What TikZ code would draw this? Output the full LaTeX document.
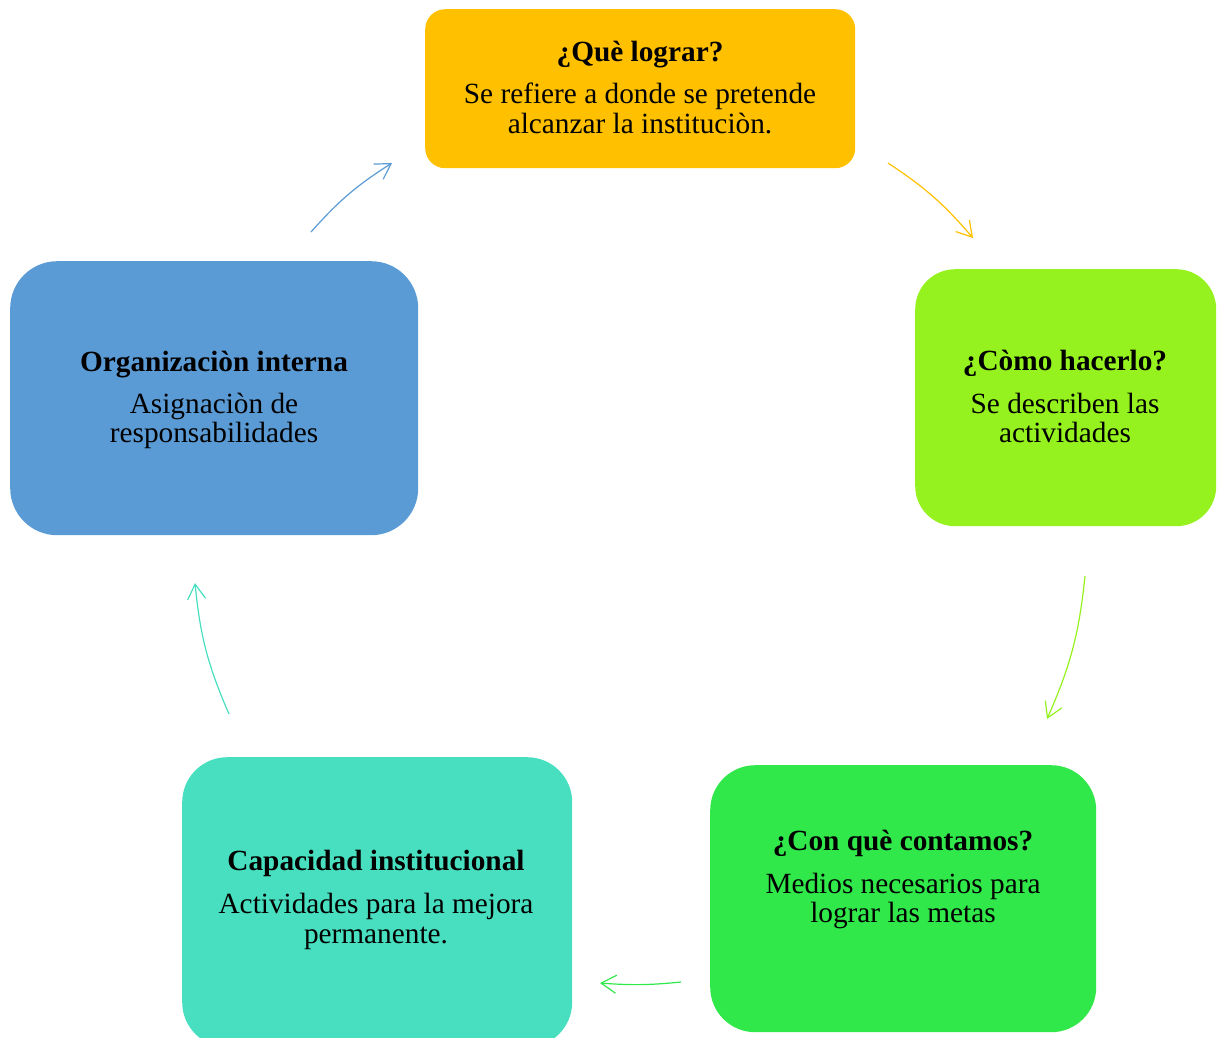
\documentclass[tikz,border=0pt]{standalone}
\usepackage{fontspec}
\setmainfont{Liberation Serif}
\usetikzlibrary{arrows.meta}
\definecolor{cyellow}{HTML}{FFC000}
\definecolor{clime}{HTML}{95F21E}
\definecolor{cgreen}{HTML}{31E84B}
\definecolor{cteal}{HTML}{48DFC0}
\definecolor{cblue}{HTML}{5B9BD5}
\begin{document}
\begin{tikzpicture}[x=1pt,y=1pt,
  box/.style={rectangle,draw=none,inner sep=0pt,anchor=north west},
  ttl/.style={anchor=base,inner sep=0pt,font=\fontsize{29.3}{30}\selectfont\bfseries},
  txt/.style={anchor=base,inner sep=0pt,font=\fontsize{29.3}{30}\selectfont},
  arr/.style={line width=1.2pt,-{Straight Barb[length=15pt,width=18pt,line width=1.2pt]}}]
\useasboundingbox (0,0) rectangle (1222,-1037);
\begin{scope}
\clip (0,0) rectangle (1222,-1037);
% boxes
\node[box,fill=cyellow,rounded corners=20pt,minimum width=430pt,minimum height=159pt] (b1) at (425,-9) {};
\node[box,fill=clime,rounded corners=40pt,minimum width=301pt,minimum height=257pt] (b2) at (915,-269) {};
\node[box,fill=cgreen,rounded corners=45pt,minimum width=386pt,minimum height=267pt] (b3) at (710,-765) {};
\node[box,fill=cteal,rounded corners=45pt,minimum width=390pt,minimum height=290pt] (b4) at (182,-757) {};
\node[box,fill=cblue,rounded corners=47pt,minimum width=408pt,minimum height=274pt] (b5) at (10,-261) {};
\end{scope}
% texts
\node[ttl] (t1) at (640,-61) {¿Què lograr?};
\node[txt] (t1a) at (640,-103) {Se refiere a donde se pretende};
\node[txt] (t1b) at (640,-133) {alcanzar la instituciòn.};
\node[ttl] (t2) at (1065,-370) {¿Còmo hacerlo?};
\node[txt] (t2a) at (1065,-413) {Se describen las};
\node[txt] (t2b) at (1065,-442) {actividades};
\node[ttl] (t3) at (903,-850) {¿Con què contamos?};
\node[txt] (t3a) at (903,-893) {Medios necesarios para};
\node[txt] (t3b) at (903,-922) {lograr las metas};
\node[ttl] (t4) at (376,-870) {Capacidad institucional};
\node[txt] (t4a) at (376,-913) {Actividades para la mejora};
\node[txt] (t4b) at (376,-943) {permanente.};
\node[ttl] (t5) at (214,-371) {Organizaciòn interna};
\node[txt] (t5a) at (214,-413) {Asignaciòn de};
\node[txt] (t5b) at (214,-442) {responsabilidades};
% arrows
\coordinate (a1s) at (888,-163); \coordinate (a1e) at (973,-238);
\coordinate (a2s) at (1085,-576); \coordinate (a2e) at (1047,-719);
\coordinate (a3s) at (681,-982); \coordinate (a3e) at (600,-983);
\coordinate (a4s) at (229,-714); \coordinate (a4e) at (195,-583);
\coordinate (a5s) at (311,-232); \coordinate (a5e) at (392,-163);
\draw[arr,cyellow] (a1s) to[bend left=8] (a1e);
\draw[arr,clime] (a2s) to[bend left=9] (a2e);
\draw[arr,cgreen] (a3s) to[bend left=5] (a3e);
\draw[arr,cteal] (a4s) to[bend left=9] (a4e);
\draw[arr,cblue] (a5s) to[bend left=8] (a5e);
\end{tikzpicture}
\end{document}
